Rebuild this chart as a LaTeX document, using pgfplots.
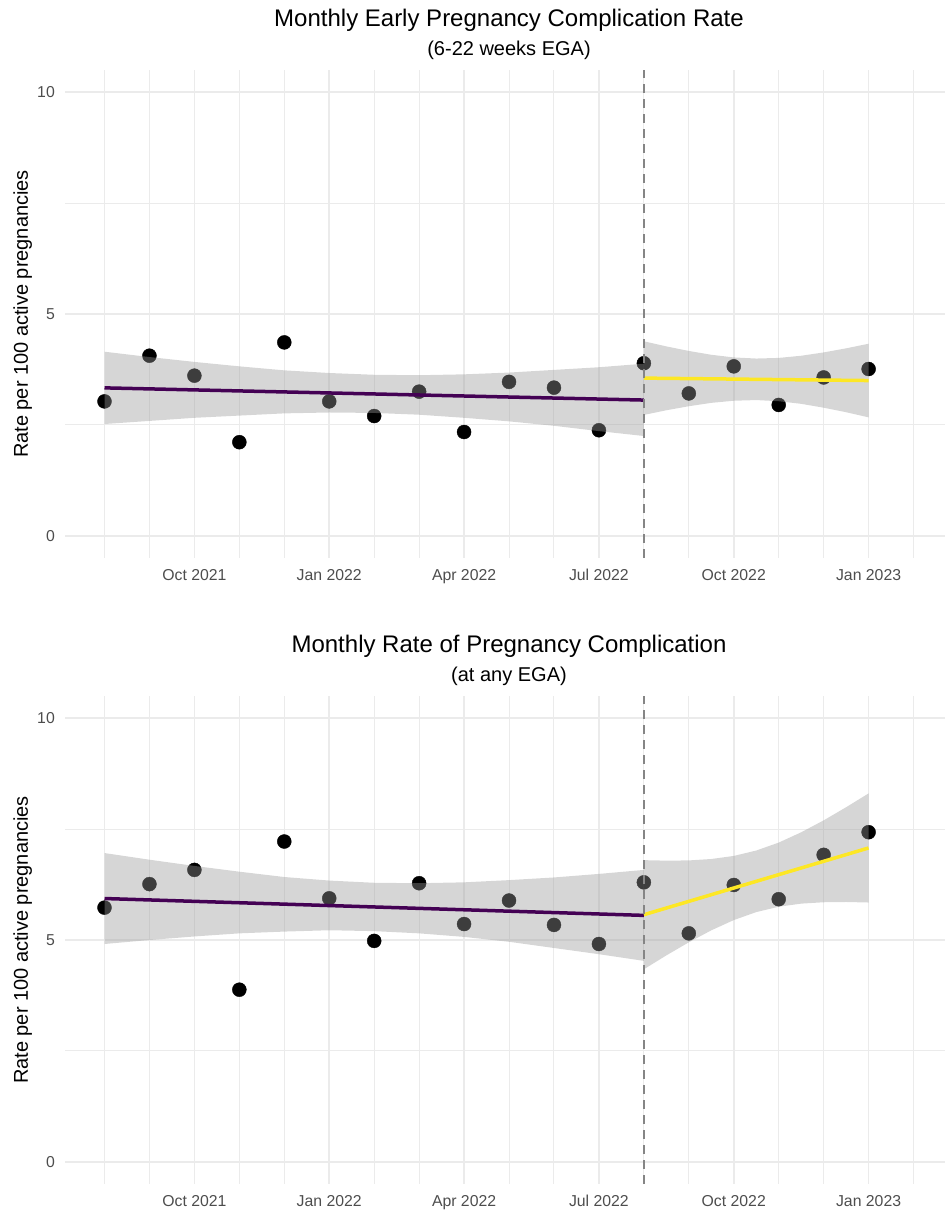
\documentclass[border=0pt]{standalone}
\usepackage{pgfplots}
\pgfplotsset{compat=1.18}
\usepackage{pgfplotstable}
\usepackage{fontspec}
\setmainfont{Liberation Sans}
\definecolor{gridc}{HTML}{EBEBEB}
\definecolor{tickc}{HTML}{4D4D4D}
\definecolor{vpurple}{HTML}{440154}
\definecolor{vyellow}{HTML}{FDE725}
\definecolor{ribbon}{HTML}{999999}
\definecolor{vline}{HTML}{858585}

% month index: 0 = Aug 2021 ... 17 = Jan 2023
\pgfplotstableread{
i  early  any
0  3.03   5.73
1  4.06   6.26
2  3.61   6.58
3  2.11   3.88
4  4.36   7.22
5  3.03   5.94
6  2.70   4.98
7  3.25   6.28
8  2.34   5.36
9  3.47   5.89
10 3.34   5.34
11 2.38   4.91
12 3.89   6.30
13 3.21   5.15
14 3.82   6.24
15 2.95   5.92
16 3.57   6.92
17 3.76   7.43
}\rates

\pgfplotsset{
  panel/.style={
    scale only axis, width=880pt, height=488pt,
    anchor=north west,
    xmin=-0.879, xmax=18.70, ymin=-0.5, ymax=10.5,
    clip marker paths=true,
    axis line style={draw=none},
    major tick length=0pt, minor tick length=0pt,
    xtick={2,5,8,11,14,17},
    xticklabels={Oct 2021,Jan 2022,Apr 2022,Jul 2022,Oct 2022,Jan 2023},
    minor xtick={0,1,3,4,6,7,9,10,12,13,15,16,18},
    ytick={0,5,10}, yticklabels={0,5,10},
    minor ytick={2.5,7.5},
    grid=both,
    major grid style={draw=gridc, line width=1.6pt},
    minor grid style={draw=gridc, line width=1.0pt},
    tick label style={font=\fontsize{15.8}{18}\selectfont, text=tickc},
    xticklabel style={anchor=north, inner sep=0pt, yshift=-11.3pt},
    yticklabel style={anchor=east, inner sep=0pt, xshift=-10pt},
    ylabel={Rate per 100 active pregnancies},
    every axis y label/.style={at={(axis description cs:-0.04205,0.5)}, rotate=90, anchor=base, font=\fontsize{20}{24}\selectfont},
    /pgf/number format/assume math mode=true,
  },
  band/.style={draw=none, fill=ribbon, fill opacity=0.4},
  fitline/.style={line width=3.5pt},
  pts/.style={only marks, mark=*, mark size=7pt, black},
  vl/.style={vline, line width=1.4pt, dash pattern=on 9pt off 6pt},
}

\begin{document}
\begin{tikzpicture}
\useasboundingbox (0pt,0pt) rectangle (945pt,-1212pt);

\node[anchor=base, font=\fontsize{24}{28}\selectfont] at (509pt,-27pt) {Monthly Early Pregnancy Complication Rate};
\node[anchor=base, font=\fontsize{20}{24}\selectfont] at (509pt,-55.5pt) {(6-22 weeks EGA)};

\begin{axis}[panel, at={(65pt,-70pt)}]
\addplot[pts] table[x=i, y=early] {\rates};
\addplot[band] coordinates {
 (0,4.15) (1,4.03) (2,3.92) (3,3.82) (4,3.73) (5,3.67) (6,3.63) (7,3.62) (8,3.64) (9,3.68) (10,3.74) (11,3.80) (12,3.88)
 (12,2.25) (11,2.36) (10,2.48) (9,2.58) (8,2.66) (7,2.73) (6,2.77) (5,2.78) (4,2.76) (3,2.71) (2,2.66) (1,2.59) (0,2.52)
} -- cycle;
\addplot[band] coordinates {
 (12,4.385) (12.5,4.270) (13,4.167) (13.5,4.081) (14,4.021) (14.5,3.996) (15,4.010) (15.5,4.059) (16,4.134) (16.5,4.226) (17,4.330)
 (17,2.670) (16.5,2.786) (16,2.888) (15.5,2.975) (15,3.034) (14.5,3.060) (14,3.045) (13.5,2.997) (13,2.921) (12.5,2.830) (12,2.725)
} -- cycle;
\addplot[fitline, vpurple] coordinates {(0,3.335) (12,3.06)};
\addplot[fitline, vyellow] coordinates {(12,3.555) (17,3.50)};
\addplot[vl] coordinates {(12,-0.5) (12,10.5)};
\end{axis}

\node[anchor=base, font=\fontsize{24}{28}\selectfont] at (509pt,-652pt) {Monthly Rate of Pregnancy Complication};
\node[anchor=base, font=\fontsize{20}{24}\selectfont] at (509pt,-681.5pt) {(at any EGA)};

\begin{axis}[panel, at={(65pt,-696pt)}]
\addplot[pts] table[x=i, y=any] {\rates};
\addplot[band] coordinates {
 (0,6.96) (1,6.81) (2,6.67) (3,6.54) (4,6.42) (5,6.34) (6,6.29) (7,6.28) (8,6.30) (9,6.35) (10,6.41) (11,6.49) (12,6.58)
 (12,4.53) (11,4.68) (10,4.82) (9,4.96) (8,5.07) (7,5.15) (6,5.20) (5,5.22) (4,5.19) (3,5.15) (2,5.08) (1,5.00) (0,4.91)
} -- cycle;
\addplot[band] coordinates {
 (12,6.800) (12.5,6.789) (13,6.794) (13.5,6.826) (14,6.895) (14.5,7.017) (15,7.196) (15.5,7.428) (16,7.697) (16.5,7.993) (17,8.305)
 (17,5.845) (16.5,5.857) (16,5.851) (15.5,5.820) (15,5.750) (14.5,5.629) (14,5.449) (13.5,5.218) (13,4.948) (12.5,4.653) (12,4.340)
} -- cycle;
\addplot[fitline, vpurple] coordinates {(0,5.935) (12,5.555)};
\addplot[fitline, vyellow] coordinates {(12,5.57) (17,7.075)};
\addplot[vl] coordinates {(12,-0.5) (12,10.5)};
\end{axis}
\end{tikzpicture}
\end{document}
